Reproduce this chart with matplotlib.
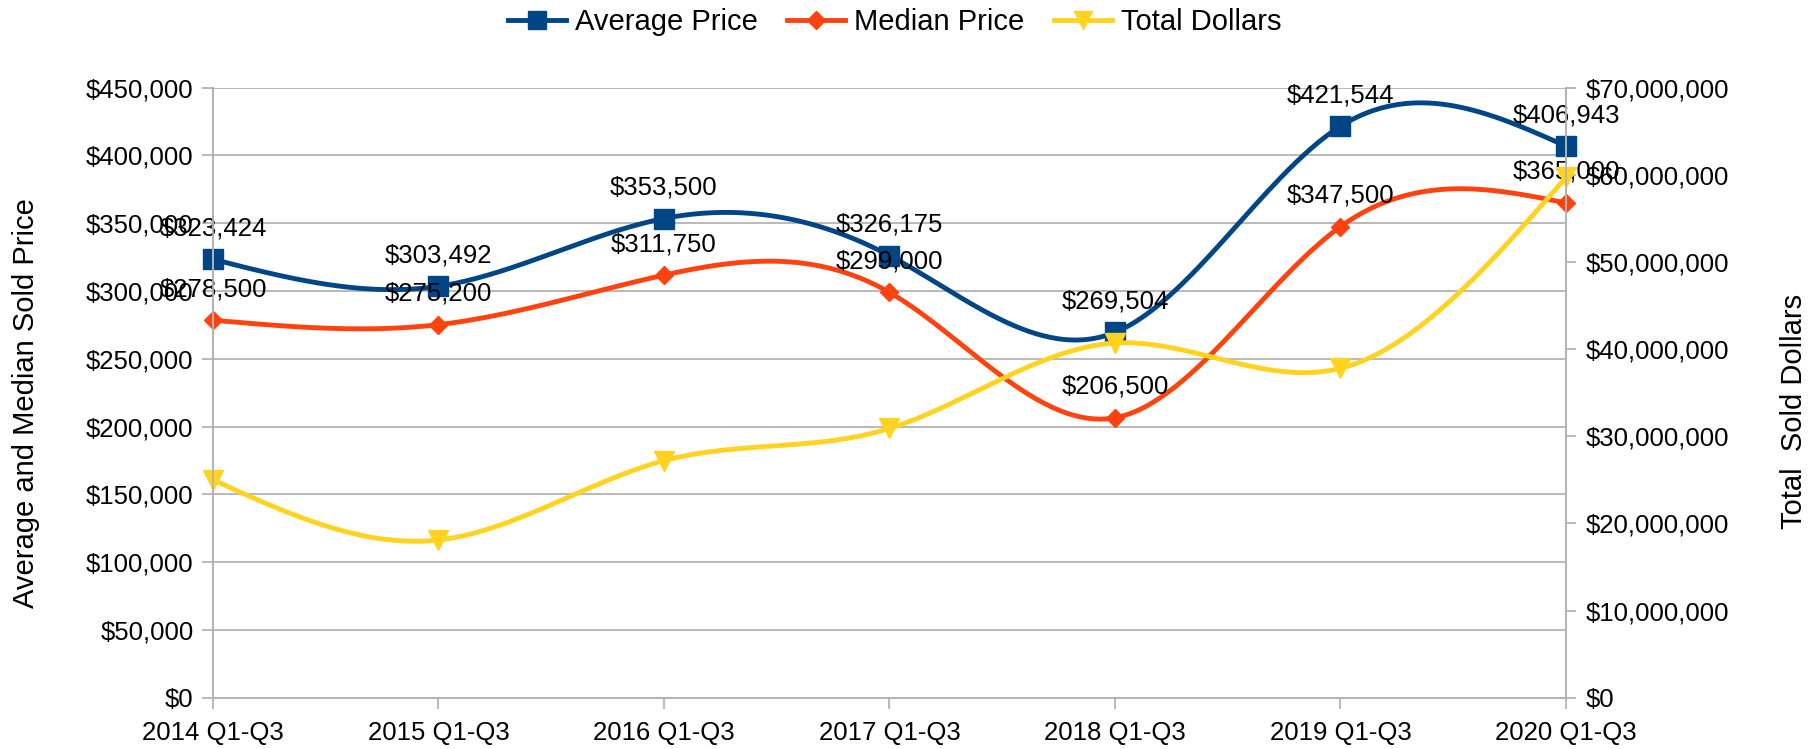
import numpy as np
import matplotlib
matplotlib.use("Agg")
import matplotlib.pyplot as plt
from matplotlib.ticker import FuncFormatter, MultipleLocator

plt.rcParams['font.family'] = ['Liberation Sans', 'DejaVu Sans']
plt.rcParams['font.size'] = 18.5

# data -----------------------------------------------------------------------
periods = ['2014 Q1-Q3', '2015 Q1-Q3', '2016 Q1-Q3', '2017 Q1-Q3',
           '2018 Q1-Q3', '2019 Q1-Q3', '2020 Q1-Q3']
avg_price = [323424, 303492, 353500, 326175, 269504, 421544, 406943]
median_price = [278500, 275200, 311750, 299000, 206500, 347500, 365000]
total_dollars = [25.0e6, 18.1e6, 27.2e6, 30.9e6, 40.7e6, 37.8e6, 59.7e6]

BLUE = '#004586'
ORANGE = '#ff420e'
YELLOW = '#ffd320'
GRID = '#b3b3b3'


def natural_spline(y, n=60):
    # natural cubic spline through equally spaced points x = 0..len(y)-1
    y = np.asarray(y, dtype=float)
    k = len(y)
    A = np.zeros((k, k))
    b = np.zeros(k)
    A[0, 0] = A[-1, -1] = 1
    for i in range(1, k - 1):
        A[i, i - 1], A[i, i], A[i, i + 1] = 1, 4, 1
        b[i] = 6 * (y[i + 1] - 2 * y[i] + y[i - 1])
    m = np.linalg.solve(A, b)
    xs, ys = [], []
    for i in range(k - 1):
        t = np.linspace(0, 1, n, endpoint=(i == k - 2))
        seg = ((1 - t) * y[i] + t * y[i + 1]
               + ((1 - t) ** 3 - (1 - t)) * m[i] / 6
               + (t ** 3 - t) * m[i + 1] / 6)
        xs.append(i + t)
        ys.append(seg)
    return np.concatenate(xs), np.concatenate(ys)


x = np.arange(len(periods))

fig = plt.figure(figsize=(18.2, 7.49), dpi=100)
ax = fig.add_axes([0.117, 0.0685, 0.7434, 0.8144])
ax2 = ax.twinx()

# left axis: prices
for vals, col, mk, ms in [(avg_price, BLUE, 's', 14),
                          (median_price, ORANGE, 'D', 9.5)]:
    sx, sy = natural_spline(vals)
    ax.plot(sx, sy, color=col, lw=3.5, solid_capstyle='round', clip_on=False)
    ax.plot(x, vals, ls='none', marker=mk, ms=ms, color=col, clip_on=False)
    for xi, v in zip(x, vals):
        ax.annotate(f"${v:,.0f}", (xi, v), xytext=(0, 24), textcoords='offset pixels',
                    ha='center', va='baseline', fontsize=18.5, annotation_clip=False)

# right axis: total dollars
sx, sy = natural_spline(total_dollars)
ax2.plot(sx, sy, color=YELLOW, lw=3.5, clip_on=False)
ax2.plot(x, total_dollars, ls='none', marker='v', ms=14, color=YELLOW, clip_on=False)

ax.set_xlim(0, len(periods) - 1)
ax.set_ylim(0, 450000)
ax2.set_ylim(0, 70e6)
ax.yaxis.set_major_locator(MultipleLocator(50000))
ax2.yaxis.set_major_locator(MultipleLocator(10e6))
money = FuncFormatter(lambda v, p: f"${v:,.0f}")
ax.yaxis.set_major_formatter(money)
ax2.yaxis.set_major_formatter(money)
ax.set_xticks(x)
ax.set_xticklabels(periods)

ax.grid(axis='y', color=GRID, lw=1.3)
ax.set_axisbelow(True)
for a in (ax, ax2):
    for s in a.spines.values():
        s.set_color(GRID)
        s.set_linewidth(1.3)
    a.spines['top'].set_visible(False)
ax.tick_params(axis='both', length=8, width=1.3, color=GRID, labelsize=18.5)
ax.tick_params(axis='y', pad=6)
ax.tick_params(axis='x', pad=9)
ax2.tick_params(axis='y', length=7.5, width=1.3, color=GRID, labelsize=18.5, pad=6.5)

ax.set_ylabel('Average and Median Sold Price', fontsize=21)
ax.yaxis.set_label_coords(-0.128, 0.483)
ax2.set_ylabel('Total  Sold Dollars', fontsize=21, rotation=90)
ax2.yaxis.set_label_coords(1.158, 0.47)

handles = [plt.Line2D([], [], color=BLUE, lw=3.5, marker='s', ms=13),
           plt.Line2D([], [], color=ORANGE, lw=3.5, marker='D', ms=9.5),
           plt.Line2D([], [], color=YELLOW, lw=3.5, marker='v', ms=13)]
fig.legend(handles, ['Average Price', 'Median Price', 'Total Dollars'],
           loc='center', bbox_to_anchor=(0.4915, 0.97), ncol=3, frameon=False,
           fontsize=21, handlelength=2.0, handletextpad=0.3, columnspacing=1.0)

fig.savefig('out.png', dpi=100)
